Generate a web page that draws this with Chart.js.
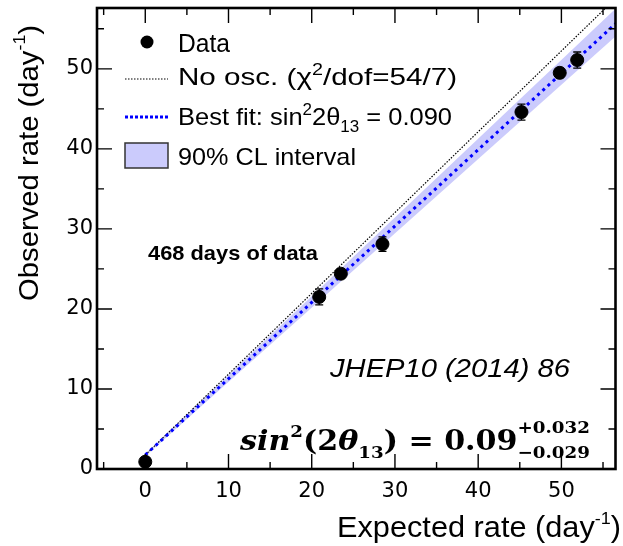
<!DOCTYPE html>
<html>
<head>
<meta charset="utf-8">
<script src="https://cdn.jsdelivr.net/npm/chart.js@4.4.1/dist/chart.umd.min.js"></script>
<style>
html, body { margin: 0; padding: 0; background: #fff; }
</style>
</head>
<body>
<canvas id="rateChart" width="623" height="546"></canvas>
<script>
// data (rates per day)
let expected = [0, 20.9, 23.5, 28.5, 45.2, 49.8, 51.9];
let observed = [0.9, 21.5, 24.4, 28.1, 44.6, 49.5, 51.1];
let obsErr = [0.3, 1.0, 0.5, 0.9, 1.0, 0.6, 1.0];

// line end points
let lineX = [0, 57];
let noOscY = [1.75, 59.3];
let bestFitY = [1.75, 56.1];
let bandUpY = [1.9, 58.0];
let bandLowY = [1.6, 54.5];

let xTicks = [0, 10, 20, 30, 40, 50];
let yTicks = [0, 10, 20, 30, 40, 50];
let xMinor = [-5, 5, 15, 25, 35, 45, 55];
let yMinor = [5, 15, 25, 35, 45, 55];

const bandColor = "#cbcbfc";

function toPts(xs, ys) {
    return xs.map((x, i) => ({ x: x, y: ys[i] }));
}

// draws text made of pieces (super/subscripts), optionally squeezed to a width
function drawRich(ctx, parts, x, y, size, family, fitWidth, rotated) {
    ctx.save();
    ctx.textBaseline = "alphabetic";
    ctx.textAlign = "left";
    let fonts = parts.map(p => (p.st || "") + " " + Math.round(size * (p.s || 1)) + "px " + (p.fam || family));
    let widths = parts.map((p, i) => { ctx.font = fonts[i]; return ctx.measureText(p.t).width; });
    let total = 0;
    parts.forEach((p, i) => { if (!p.keep) total += widths[i]; });
    ctx.translate(x, y);
    if (rotated) ctx.rotate(-Math.PI / 2);
    if (fitWidth) ctx.scale(fitWidth / total, 1);
    let cx = 0;
    parts.forEach((p, i) => {
        ctx.font = fonts[i];
        ctx.fillText(p.t, cx, (p.dy || 0) * size);
        if (!p.keep) cx += widths[i];
    });
    ctx.restore();
}

function drawErrorBars(chart) {
    let ctx = chart.ctx;
    let xs = chart.scales.x, ys = chart.scales.y;
    ctx.save();
    ctx.strokeStyle = "#000";
    ctx.lineWidth = 1.3;
    expected.forEach((ex, i) => {
        let px = xs.getPixelForValue(ex);
        let top = ys.getPixelForValue(observed[i] + obsErr[i]);
        let bot = ys.getPixelForValue(observed[i] - obsErr[i]);
        ctx.beginPath();
        ctx.moveTo(px, top); ctx.lineTo(px, bot);
        ctx.moveTo(px - 4, top); ctx.lineTo(px + 4, top);
        ctx.moveTo(px - 4, bot); ctx.lineTo(px + 4, bot);
        ctx.stroke();
    });
    ctx.restore();
}

const framePlugin = {
    id: "frame",
    beforeDatasetDraw(chart, args) {
        if (args.index === 4) drawErrorBars(chart);
    },
    afterDatasetsDraw(chart) {
        let ctx = chart.ctx;
        let a = chart.chartArea;
        let xs = chart.scales.x, ys = chart.scales.y;
        let ds = chart.data.datasets;

        ctx.save();
        // inward ticks on all four sides
        ctx.strokeStyle = "#000";
        ctx.lineWidth = 1.4;
        ctx.beginPath();
        function xTick(v, len) {
            let p = xs.getPixelForValue(v);
            ctx.moveTo(p, a.bottom); ctx.lineTo(p, a.bottom - len);
            ctx.moveTo(p, a.top); ctx.lineTo(p, a.top + len);
        }
        function yTick(v, len) {
            let p = ys.getPixelForValue(v);
            ctx.moveTo(a.left, p); ctx.lineTo(a.left + len, p);
            ctx.moveTo(a.right, p); ctx.lineTo(a.right - len, p);
        }
        xTicks.forEach(v => xTick(v, 15));
        xMinor.forEach(v => xTick(v, 7));
        yTicks.forEach(v => yTick(v, 15));
        yMinor.forEach(v => yTick(v, 7));
        ctx.stroke();

        // frame
        ctx.lineWidth = 2.6;
        ctx.strokeRect(a.left, a.top, a.right - a.left, a.bottom - a.top);

        // legend
        ctx.fillStyle = "#000";
        ctx.beginPath();
        ctx.arc(147, 42, 6.5, 0, Math.PI * 2);
        ctx.fill();

        ctx.strokeStyle = ds[2].borderColor;
        ctx.lineWidth = ds[2].borderWidth;
        ctx.setLineDash(ds[2].borderDash);
        ctx.beginPath(); ctx.moveTo(125, 79); ctx.lineTo(168, 79); ctx.stroke();

        ctx.strokeStyle = ds[3].borderColor;
        ctx.lineWidth = ds[3].borderWidth;
        ctx.setLineDash([3, 2]);
        ctx.beginPath(); ctx.moveTo(125, 117); ctx.lineTo(168, 117); ctx.stroke();
        ctx.setLineDash([]);

        ctx.fillStyle = ds[1].backgroundColor;
        ctx.fillRect(125, 143, 43, 25);
        ctx.strokeStyle = "#333";
        ctx.lineWidth = 1.5;
        ctx.strokeRect(125, 143, 43, 25);

        ctx.fillStyle = "#000";
        let fam = "'Liberation Sans', Arial, sans-serif";
        drawRich(ctx, [{ t: "Data" }], 178, 52, 25, fam, 52);
        drawRich(ctx, [{ t: "No osc. (\u03c7" }, { t: "2", s: 0.65, dy: -0.4 }, { t: "/dof=54/7)" }], 178, 85, 24, fam, 279);
        drawRich(ctx, [{ t: "Best fit: sin" }, { t: "2", s: 0.65, dy: -0.4 }, { t: "2\u03b8" }, { t: "13", s: 0.65, dy: 0.3 }, { t: " = 0.090" }], 178, 125, 24, fam, 274);
        drawRich(ctx, [{ t: "90% CL interval" }], 178, 165, 24, fam, 178);

        // annotations
        drawRich(ctx, [{ t: "468 days of data", st: "bold" }], 148, 260, 21, fam, 170);
        drawRich(ctx, [{ t: "JHEP10 (2014) 86", st: "italic" }], 330, 377, 26, fam, 240);

        let serif = "'DejaVu Serif', serif";
        drawRich(ctx, [
            { t: "sin", st: "bold italic" },
            { t: "2", st: "bold", s: 0.62, dy: -0.45 },
            { t: "(2", st: "bold" },
            { t: "\u03b8", st: "bold italic" },
            { t: "13", st: "bold", s: 0.62, dy: 0.28 },
            { t: ") = 0.09", st: "bold" },
            { t: "+0.032", st: "bold", s: 0.62, dy: -0.6, keep: true },
            { t: "\u22120.029", st: "bold", s: 0.62, dy: 0.3 }
        ], 240, 450, 28, serif, 350);

        // axis titles
        drawRich(ctx, [{ t: "Expected rate (day" }, { t: "-1", s: 0.6, dy: -0.45 }, { t: ")" }], 337, 537, 29, fam, 284);
        drawRich(ctx, [{ t: "Observed rate (day" }, { t: "-1", s: 0.6, dy: -0.45 }, { t: ")" }], 38, 301, 28, fam, 276, true);

        ctx.restore();
    }
};

let ctx1 = document.getElementById("rateChart").getContext("2d");

// lower "order" is drawn on top
new Chart(ctx1, {
    type: "scatter",
    data: {
        datasets: [
            {
                label: "band low",
                data: toPts(lineX, bandLowY),
                showLine: true, borderWidth: 0, pointRadius: 0, fill: false,
                borderColor: bandColor,
                order: 5
            },
            {
                label: "90% CL interval",
                data: toPts(lineX, bandUpY),
                showLine: true, borderWidth: 0, pointRadius: 0, fill: "-1",
                borderColor: bandColor, backgroundColor: bandColor,
                order: 4
            },
            {
                label: "No osc.",
                data: toPts(lineX, noOscY),
                showLine: true, pointRadius: 0,
                borderColor: "#000", borderWidth: 1.2, borderDash: [1.5, 1.5],
                order: 3
            },
            {
                label: "Best fit",
                data: toPts(lineX, bestFitY),
                showLine: true, pointRadius: 0,
                borderColor: "#0000ff", borderWidth: 3, borderDash: [3, 4],
                order: 2
            },
            {
                label: "Data",
                data: toPts(expected, observed),
                pointRadius: 6.5, pointHoverRadius: 6.5,
                backgroundColor: "#000", borderColor: "#000",
                clip: false,
                order: 1
            }
        ]
    },
    options: {
        responsive: false,
        animation: false,
        layout: { padding: { top: 8, right: 0, left: 0, bottom: 0 } },
        plugins: {
            legend: { display: false },
            tooltip: { enabled: false }
        },
        scales: {
            x: {
                type: "linear",
                min: -5.8,
                max: 56.5,
                grid: { display: false, drawTicks: false },
                border: { display: false },
                afterBuildTicks: s => { s.ticks = xTicks.map(v => ({ value: v })); },
                afterFit: s => { s.height = 77; s.paddingLeft = 0; s.paddingRight = 0; },
                ticks: {
                    color: "#000",
                    padding: 10,
                    maxRotation: 0,
                    autoSkip: false,
                    font: { family: "'DejaVu Sans'", size: 21 }
                }
            },
            y: {
                type: "linear",
                min: 0,
                max: 57.6,
                grid: { display: false, drawTicks: false },
                border: { display: false },
                afterBuildTicks: s => { s.ticks = yTicks.map(v => ({ value: v })); },
                afterFit: s => { s.width = 97; s.paddingTop = 0; s.paddingBottom = 0; },
                ticks: {
                    color: "#000",
                    padding: 4,
                    autoSkip: false,
                    font: { family: "'DejaVu Sans'", size: 21 }
                }
            }
        }
    },
    plugins: [framePlugin]
});
</script>
</body>
</html>
